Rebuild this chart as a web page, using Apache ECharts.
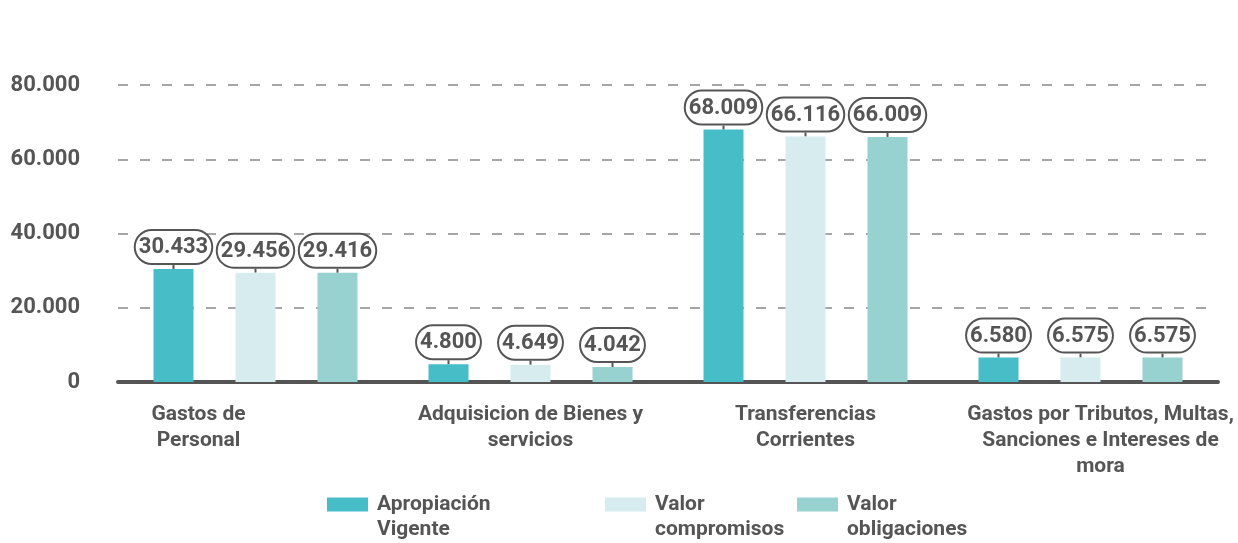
<!DOCTYPE html>
<html>
<head>
<meta charset="utf-8">
<script src="https://cdn.jsdelivr.net/npm/echarts@6/dist/echarts.min.js"></script>
<style>
html,body{margin:0;padding:0;background:#fff;}
#chart{width:1238px;height:543px;}
</style>
</head>
<body>
<div id="chart"></div>
<script>
var categories = ['Gastos de\nPersonal', 'Adquisicion de Bienes y\nservicios', 'Transferencias\nCorrientes', 'Gastos por Tributos, Multas,\nSanciones e Intereses de\nmora'];
var seriesNames = ['Apropiación\nVigente', 'Valor\ncompromisos', 'Valor\nobligaciones'];
var apropiacion = [30433, 4800, 68009, 6580];
var compromisos = [29456, 4649, 66116, 6575];
var obligaciones = [29416, 4042, 66009, 6575];
var yTicks = [0, 20000, 40000, 60000, 80000];

var FONT = "Roboto, 'Liberation Sans', sans-serif";
var TXT = '#555555';
var colors = ['#47BDC8', '#D6ECEF', '#98D2D0'];
var catShift = [-57, 0, 0, 20];

function fmt(v) {
  return String(v).replace(/\B(?=(\d{3})+(?!\d))/g, '.');
}

var chart = echarts.init(document.getElementById('chart'), null, {renderer: 'canvas'});

var catData = categories.map(function (c, i) {
  var s = catShift[i];
  return {value: c, textStyle: {padding: s < 0 ? [0, -2 * s, 0, 0] : [0, 0, 0, 2 * s]}};
});

function mkSeries(name, data, idx) {
  return {
    name: name,
    type: 'bar',
    data: data,
    barWidth: 40,
    barGap: '105%',
    itemStyle: {color: colors[idx]},
    label: {
      show: true,
      position: 'top',
      distance: 6,
      formatter: function (p) { return fmt(p.value); },
      fontFamily: FONT,
      fontWeight: 'bold',
      fontSize: 22,
      lineHeight: 27,
      color: TXT,
      backgroundColor: '#fff',
      borderColor: TXT,
      borderWidth: 2,
      borderRadius: 16,
      padding: [3, 3, 2, 3]
    },
    labelLayout: function (p) {
      return {
        x: p.rect.x + p.rect.width / 2,
        y: p.rect.y - 6,
        align: 'center',
        verticalAlign: 'bottom'
      };
    },
    labelLine: {show: true, length2: 0, lineStyle: {color: TXT, width: 2}}
  };
}

function mkLegend(name, left) {
  return {
    data: [name],
    left: left,
    top: 467,
    icon: 'rect',
    itemWidth: 41,
    itemHeight: 14,
    padding: 0,
    formatter: function (n) { return '\u00a0\n' + n; },
    textStyle: {
      fontFamily: FONT,
      fontWeight: 'bold',
      fontSize: 21,
      lineHeight: 25,
      color: TXT,
      padding: [0, 0, 0, 4]
    }
  };
}

chart.setOption({
  animation: false,
  color: colors,
  grid: {left: 118, right: 20, top: 85, bottom: 161, containLabel: false, outerBoundsMode: 'none'},
  legend: [mkLegend(seriesNames[0], 327), mkLegend(seriesNames[1], 605), mkLegend(seriesNames[2], 797)],
  xAxis: {
    type: 'category',
    data: catData,
    axisLine: {show: true, lineStyle: {color: TXT, width: 4}},
    axisTick: {show: false},
    axisLabel: {
      interval: 0,
      margin: 20,
      fontFamily: FONT,
      fontWeight: 'bold',
      fontSize: 21,
      lineHeight: 26,
      color: TXT,
      align: 'center'
    }
  },
  yAxis: {
    type: 'value',
    min: yTicks[0],
    max: yTicks[yTicks.length - 1],
    interval: yTicks[1] - yTicks[0],
    axisLine: {show: false},
    axisTick: {show: false},
    axisLabel: {
      margin: 38,
      fontFamily: FONT,
      fontWeight: 'bold',
      fontSize: 22,
      color: TXT,
      formatter: function (v) { return fmt(v); }
    },
    splitLine: {show: true, lineStyle: {color: '#A6A6A6', width: 2, type: [10, 12]}}
  },
  series: [
    mkSeries(seriesNames[0], apropiacion, 0),
    mkSeries(seriesNames[1], compromisos, 1),
    mkSeries(seriesNames[2], obligaciones, 2)
  ]
});
</script>
</body>
</html>
